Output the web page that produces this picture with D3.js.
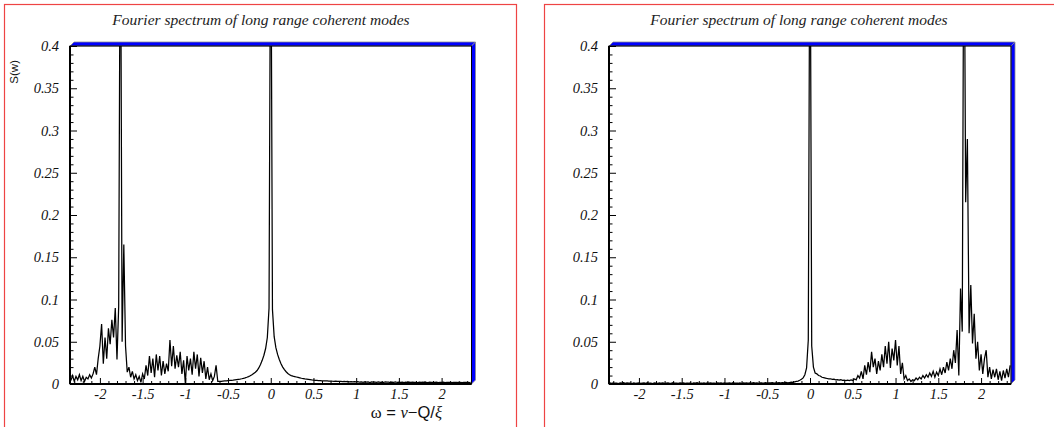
<!DOCTYPE html>
<html>
<head>
<meta charset="utf-8">
<script src="https://cdn.jsdelivr.net/npm/d3@7"></script>
<style>
  body { margin: 0; background: #fff; }
  svg { display: block; }
  .tick text { font-family: "Liberation Serif", "Times New Roman", serif; font-style: italic; font-size: 14.5px; fill: #111; }
</style>
</head>
<body>
<svg id="chart" width="1054" height="427"></svg>
<script>
// Sampling grid of the spectrum (omega values), shared by both panels
const omegaStart = -2.34;
const omegaStep = 0.02;

// S(w) for the first run: mode at -1.76 and the coherent peak at 0
const spectrumLeft = [
  0.004,0.010,0.003,0.009,0.005,0.011,0.004,0.009,0.003,0.008,0.006,0.011,0.007,
  0.012,0.020,0.011,0.030,0.045,0.071,0.024,0.055,0.030,0.066,0.047,0.076,0.055,0.090,0.029,0.092,
  0.62,
  0.050,
  0.165,0.045,0.014,
  0.020,0.008,0.015,0.006,0.011,0.004,0.009,0.002,0.012,0.006,
  0.022,0.010,0.033,0.013,0.030,0.008,0.035,0.016,0.033,0.010,
  0.027,0.012,0.024,0.015,0.052,0.021,0.045,0.018,0.034,0.020,
  0.038,0.012,0.028,0.001,0.033,0.016,0.030,0.011,0.038,0.018,
  0.035,0.009,0.031,0.013,0.027,0.006,0.020,0.005,0.012,0.004,
  0.009,0.022,0.003,
  0.0030,0.0032,0.0034,0.0036,0.0038,0.0040,0.0042,0.0044,0.0046,0.0049,
  0.0052,0.0055,0.0058,0.0062,0.0067,0.0073,0.0080,0.0088,0.0098,0.011,
  0.0125,0.014,0.016,0.019,0.023,0.028,0.034,0.042,0.055,0.090,
  0.62,
  0.088,0.056,0.043,0.035,0.029,0.024,0.020,0.017,0.0145,0.0125,
  0.011,0.0100,0.0093,0.0088,0.0083,0.0078,0.0073,0.0068,0.0064,0.0060,
  0.0057,0.0054,0.0051,0.0048,0.0046,0.0044,0.0043,0.0041,0.0040,0.0038,
  0.0037,0.0036,0.0036,0.0034,0.0035,0.0033,0.0032,0.0033,0.0031,0.0030,
  0.0032,0.0029,0.0030,0.0027,0.0031,0.0026,0.0029,0.0025,0.0028,0.0024,
  0.0027,0.0021,0.0025,0.0019,0.0026,0.0022,0.0024,0.0018,0.0025,0.0021,
  0.0023,0.0019,0.0026,0.0020,0.0022,0.0018,0.0024,0.0021,0.0023,0.0017,
  0.0022,0.0020,0.0024,0.0018,0.0021,0.0019,0.0023,0.0017,0.0022,0.0020,
  0.0021,0.0018,0.0023,0.0019,0.0020,0.0017,0.0022,0.0018,0.0021,0.0019,
  0.0020,0.0017,0.0022,0.0018,0.0020,0.0019,0.0021,0.0017,0.0020,0.0018,
  0.0021,0.0017,0.0019,0.0018,0.0020,0.0016,0.0019,0.0018,0.0020,0.0017,
  0.0019,0.0016,0.0019,0.0018,0.0020,0.0017,0.0019
];

// S(w) for the second run: coherent peak at 0 and mode at +1.80
const spectrumRight = [
  0.0012,0.0008,0.0014,0.0009,0.0011,0.0006,0.0013,0.0010,0.0015,0.0007,
  0.0012,0.0009,0.0010,0.0006,0.0014,0.0008,0.0011,0.0013,0.0007,0.0010,
  0.0012,0.0008,0.0015,0.0009,0.0010,0.0006,0.0012,0.0011,0.0008,0.0014,
  0.0009,0.0012,0.0007,0.0011,0.0013,0.0008,0.0010,0.0015,0.0009,0.0011,
  0.0007,0.0012,0.0010,0.0014,0.0008,0.0011,0.0009,0.0013,0.0006,0.0012,
  0.0010,0.0015,0.0008,0.0011,0.0009,0.0013,0.0007,0.0012,0.0010,0.0014,
  0.0009,0.0011,0.0008,0.0013,0.0010,0.0012,0.0007,0.0014,0.0009,0.0011,
  0.0012,0.0008,0.0015,0.0010,0.0011,0.0009,0.0013,0.0008,0.0012,0.0011,
  0.0014,0.0009,0.0012,0.0010,0.0015,0.0011,0.0013,0.0009,0.0014,0.0012,
  0.0011,0.0015,0.0010,0.0013,0.0012,0.0016,0.0011,0.0014,0.0013,0.0017,
  0.0012,0.0015,0.0014,0.0018,0.0013,
  0.0017,0.0021,0.0019,0.0025,0.0030,0.0035,0.0044,0.0055,0.0072,0.011,0.019,0.052,
  0.62,
  0.045,0.020,0.013,0.012,0.010,0.0095,0.008,0.0075,0.007,0.0065,
  0.006,0.0062,0.0055,0.0058,0.005,0.0052,0.0045,0.005,0.0042,0.0046,
  0.004,0.0045,0.004,0.0048,0.0042,0.006,0.005,0.010,0.007,0.015,
  0.006,0.022,0.011,0.026,0.014,0.038,0.020,0.030,0.012,0.027,
  0.016,0.035,0.020,0.045,0.024,0.050,0.019,0.042,0.028,0.052,
  0.022,0.045,0.012,0.025,0.006,0.010,0.004,0.006,0.003,0.005,
  0.004,0.007,0.005,0.008,0.006,0.010,0.007,0.011,0.008,0.013,
  0.009,0.015,0.008,0.014,0.010,0.018,0.011,0.020,0.013,0.026,
  0.016,0.030,0.018,0.040,0.025,0.064,0.010,0.113,0.062,0.62,
  0.215,0.29,0.060,0.117,0.048,0.083,0.030,0.050,0.016,0.035,
  0.012,0.030,0.040,0.008,0.020,0.006,0.017,0.008,0.018,0.005,
  0.015,0.004,0.016,0.007,0.018,0.008,0.022
];

const xMajorTicks = [-2, -1.5, -1, -0.5, 0, 0.5, 1, 1.5, 2];
const yMajorTicks = [0, 0.05, 0.1, 0.15, 0.2, 0.25, 0.3, 0.35, 0.4];
const titleText = "Fourier spectrum of long range coherent modes";
const yLabelText = "S(w)";

const svg = d3.select("#chart");
const fmt = d => `${d}`;

const panels = [
  { data: spectrumLeft,  frameX: 4.5,   frameW: 512, x0: 70,  x1: 471.5, titleX: 261, axisTitles: true },
  { data: spectrumRight, frameX: 544.5, frameW: 520, x0: 609, x1: 1011,  titleX: 799, axisTitles: false }
];
const yTop = 46, yBottom = 384, depth = 4;

panels.forEach((p, k) => {
  const g = svg.append("g");

  // red page frame of the panel
  g.append("rect")
    .attr("x", p.frameX).attr("y", 4.5)
    .attr("width", p.frameW).attr("height", 440)
    .attr("fill", "none").attr("stroke", "#ee4444").attr("stroke-width", 1.2);

  const x = d3.scaleLinear().domain([-2.35, 2.35]).range([p.x0, p.x1]);
  const y = d3.scaleLinear().domain([0, 0.4]).range([yBottom, yTop]);

  // 3-D box: blue top and side faces
  const top = [[p.x0, yTop], [p.x0 + depth, yTop - depth], [p.x1 + depth, yTop - depth], [p.x1, yTop]];
  const side = [[p.x1, yTop], [p.x1 + depth, yTop - depth], [p.x1 + depth, yBottom - depth], [p.x1, yBottom]];
  [top, side].forEach(poly => {
    g.append("polygon")
      .attr("points", poly.map(q => q.join(",")).join(" "))
      .attr("fill", "#0000ff").attr("stroke", "#8a8a8a").attr("stroke-width", 0.8);
  });

  // clip for the spectrum
  const clipId = `plot-clip-${k}`;
  g.append("clipPath").attr("id", clipId)
    .append("rect").attr("x", p.x0).attr("y", yTop).attr("width", p.x1 - p.x0).attr("height", yBottom - yTop);

  const line = d3.line()
    .x((d, i) => x(omegaStart + i * omegaStep))
    .y(d => y(d));
  g.append("path")
    .datum(p.data)
    .attr("clip-path", `url(#${clipId})`)
    .attr("fill", "none").attr("stroke", "#000").attr("stroke-width", 1.25)
    .attr("stroke-linejoin", "miter")
    .attr("d", line);

  // plot frame
  g.append("rect")
    .attr("x", p.x0).attr("y", yTop).attr("width", p.x1 - p.x0).attr("height", yBottom - yTop)
    .attr("fill", "none").attr("stroke", "#000").attr("stroke-width", 1);

  // x axis: minor and major ticks pointing inside
  const xMinor = d3.range(-23, 24).map(v => v / 10).filter(v => !xMajorTicks.includes(v));
  g.append("g").attr("transform", `translate(0,${yBottom})`)
    .call(d3.axisBottom(x).tickValues(xMinor).tickSize(-3).tickSizeOuter(0).tickFormat(""))
    .call(a => a.select(".domain").remove());
  g.append("g").attr("transform", `translate(0,${yBottom})`)
    .call(d3.axisBottom(x).tickValues(xMajorTicks).tickSize(-6).tickSizeOuter(0).tickPadding(5).tickFormat(fmt))
    .call(a => a.select(".domain").remove());

  // y axis
  const yMinor = d3.range(1, 40).map(v => v / 100).filter(v => v % 0.05 > 1e-9 && 0.05 - (v % 0.05) > 1e-9);
  g.append("g").attr("transform", `translate(${p.x0},0)`)
    .call(d3.axisLeft(y).tickValues(yMinor).tickSize(-3.5).tickSizeOuter(0).tickFormat(""))
    .call(a => a.select(".domain").remove());
  g.append("g").attr("transform", `translate(${p.x0},0)`)
    .call(d3.axisLeft(y).tickValues(yMajorTicks).tickSize(-7).tickSizeOuter(0).tickPadding(11).tickFormat(fmt))
    .call(a => a.select(".domain").remove());

  // heavier axis lines
  g.append("line").attr("x1", p.x0).attr("x2", p.x1).attr("y1", yBottom).attr("y2", yBottom)
    .attr("stroke", "#000").attr("stroke-width", 2);
  g.append("line").attr("x1", p.x0).attr("x2", p.x0).attr("y1", yTop).attr("y2", yBottom)
    .attr("stroke", "#000").attr("stroke-width", 2);

  // title
  g.append("text")
    .attr("x", p.titleX).attr("y", 24.5)
    .attr("text-anchor", "middle")
    .attr("font-family", "'Liberation Serif', 'Times New Roman', serif")
    .attr("font-style", "italic").attr("font-size", 15.5).attr("fill", "#222")
    .text(titleText);

  if (p.axisTitles) {
    g.append("text")
      .attr("transform", "translate(17.5,60) rotate(-90)")
      .attr("text-anchor", "end")
      .attr("font-family", "'Liberation Sans', Arial, sans-serif")
      .attr("font-size", 11.5).attr("fill", "#111")
      .text(yLabelText);

    const xl = g.append("text")
      .attr("x", 442).attr("y", 417.5)
      .attr("text-anchor", "end")
      .attr("font-size", 16.5).attr("fill", "#111");
    xl.append("tspan").attr("font-family", "'Liberation Serif', serif").text("ω");
    xl.append("tspan").attr("font-family", "'Liberation Sans', sans-serif").text(" = ");
    xl.append("tspan").attr("font-family", "'Liberation Serif', serif").attr("font-style", "italic").text("ν");
    xl.append("tspan").attr("font-family", "'Liberation Sans', sans-serif").text("−Q/");
    xl.append("tspan").attr("font-family", "'Liberation Serif', serif").attr("font-style", "italic").text("ξ");
  }
});
</script>
</body>
</html>
